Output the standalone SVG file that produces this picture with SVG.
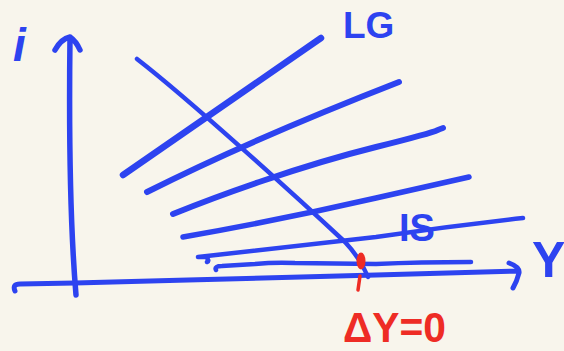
<svg xmlns="http://www.w3.org/2000/svg" width="564" height="351" viewBox="0 0 564 351">
<style>
.b{fill:none;stroke:#2d43f0;stroke-linecap:round;stroke-linejoin:round}
.t{font-family:"Liberation Sans",Arial,sans-serif;font-weight:bold}
.blue{fill:#2d43f0}
.red{fill:#ee2c25}
</style>
<rect width="564" height="351" fill="#f8f5ec"/>
<g id="axes">
<path class="b" stroke-width="5.5" d="M55,50 Q61,39 70,37 Q76,41 80,50 M70,37 Q68,200 76,295"/>
<path class="b" stroke-width="5" d="M15,291 Q12,284 20,284 L75,283 L188,280 L376,275 L519,271 M509,263 Q520,267 519,273 Q517,281 513,288"/>
</g>
<g id="curves">
<path class="b" stroke-width="6.5" d="M123,175 L321,38"/>
<path class="b" stroke-width="6" d="M147,192 Q250,140 399,82"/>
<path class="b" stroke-width="6" d="M173,214 C220,195 300,166 376,147 S430,132 443,128"/>
<path class="b" stroke-width="5.5" d="M183,237 Q280,220 376,198 L469,177"/>
<path class="b" stroke-width="4.5" d="M198,257 L206,257 Q210,261 207,262 M198,257 Q260,250 376,237 Q450,226 523,218"/>
<path class="b" stroke-width="4.5" d="M216,270 Q214,266 222,266 L255,264 Q275,262 295,263 L376,264 Q420,262 471,262"/>
<path class="b" stroke-width="4.5" d="M137,59 C190,100 300,200 345,242 Q360,258 368,277"/>
</g>
<g id="marker-red">
<ellipse cx="361" cy="261" rx="4.5" ry="8.5" class="red"/>
<path d="M360,276 L358,290" stroke="#ee2c25" stroke-width="3.5" stroke-linecap="round" fill="none"/>
</g>
<g id="labels">
<text class="t blue" x="13" y="61" font-size="46" font-style="italic">i</text>
<text class="t blue" x="343" y="38" font-size="37">LG</text>
<text class="t blue" x="399" y="241" font-size="38">IS</text>
<text class="t blue" x="532" y="277" font-size="50">Y</text>
<text class="t red" x="343" y="342" font-size="43" textLength="103" lengthAdjust="spacingAndGlyphs">ΔY=0</text>
</g>
</svg>
